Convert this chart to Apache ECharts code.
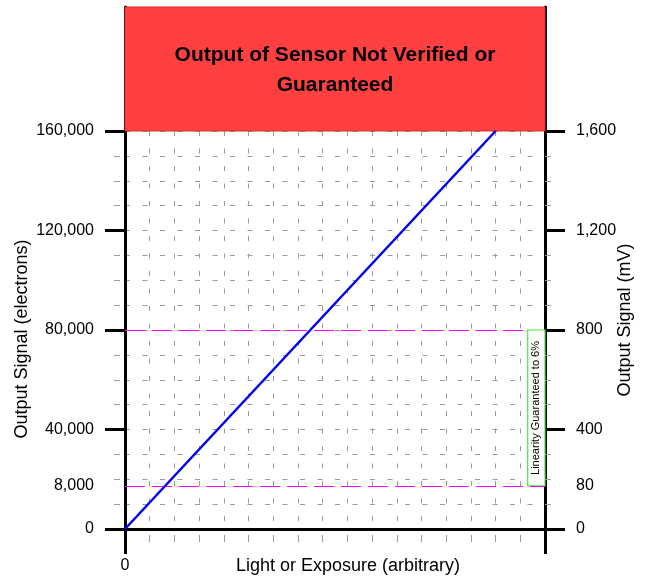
<!DOCTYPE html>
<html>
<head>
<meta charset="utf-8">
<script src="https://cdn.jsdelivr.net/npm/echarts@6/dist/echarts.min.js"></script>
<style>
html,body{margin:0;padding:0;background:#fff;}
#chart{width:645px;height:582px;}
</style>
</head>
<body>
<div id="chart"></div>
<script>
// ---- data ----
const xExtent = [0, 17];
const responseX = [0, 15];
const responseY = [0, 160000];
const leftLabelValues = [0, 17300, 40000, 80000, 120000, 160000];
const leftLabelTexts = ['0', '8,000', '40,000', '80,000', '120,000', '160,000'];
const rightLabelValues = [0, 173, 400, 800, 1200, 1600];
const rightLabelTexts = ['0', '80', '400', '800', '1,200', '1,600'];
const lowLimit = 17300;      // position of the "8,000" line
const linearLimit = 80000;
const linearBoxX = [16.3, 17];
const unverifiedRange = [160000, 210000];
const titleText = 'Output of Sensor Not Verified or\nGuaranteed';
const boxText = 'Linearity Guaranteed to 6%';

const FONT = 'Liberation Sans, Arial, Helvetica, sans-serif';
const gray = '#9a9a9a';
const dash = [5, 12.5];

const chart = echarts.init(document.getElementById('chart'));
const responseData = responseX.map((x, i) => [x, responseY[i]]);

function labelFmt(values, texts) {
  return function (v) {
    const i = values.indexOf(v);
    return i >= 0 ? texts[i] : '';
  };
}

const option = {
  animation: false,
  backgroundColor: '#fff',
  textStyle: { fontFamily: FONT },
  grid: [
    { left: 125, right: 100, top: 131, bottom: 53, outerBoundsMode: 'none', containLabel: false },
    { left: 125, right: 100, top: 7, height: 124, outerBoundsMode: 'none', containLabel: false }
  ],
  xAxis: [
    {
      type: 'value', gridIndex: 0, min: xExtent[0], max: xExtent[1], interval: xExtent[1] - xExtent[0],
      name: 'Light or Exposure (arbitrary)', nameLocation: 'middle', nameGap: 28, nameMoveOverlap: false,
      nameTextStyle: { fontSize: 18, color: '#000', fontFamily: FONT, padding: [0, 0, 0, 26] },
      axisLine: { show: true, lineStyle: { color: '#000', width: 3 } },
      axisTick: { show: true, length: 25, lineStyle: { color: '#000', width: 3 } },
      minorTick: { show: true, splitNumber: 17, length: 13, lineStyle: { color: gray, width: 1, type: [7, 6], dashOffset: 7 } },
      axisLabel: { customValues: [0], margin: 29, fontSize: 16, color: '#000', fontFamily: FONT },
      splitLine: { show: false },
      minorSplitLine: { show: true, lineStyle: { color: gray, width: 1, type: dash } }
    },
    { type: 'value', gridIndex: 1, min: xExtent[0], max: xExtent[1], show: false }
  ],
  yAxis: [
    {
      type: 'value', gridIndex: 0, position: 'left', min: 0, max: 160000, interval: 40000,
      name: 'Output Signal (electrons)', nameLocation: 'middle', nameGap: 94, nameMoveOverlap: false,
      nameTextStyle: { fontSize: 18, color: '#000', fontFamily: FONT, padding: [0, 18, 0, 0] },
      axisLine: { show: true, lineStyle: { color: '#000', width: 3 } },
      axisTick: { show: true, length: 20, lineStyle: { color: '#000', width: 3 } },
      minorTick: { show: true, splitNumber: 4, length: 11, lineStyle: { color: gray, width: 1, type: [6, 5], dashOffset: 6 } },
      axisLabel: { customValues: leftLabelValues, formatter: labelFmt(leftLabelValues, leftLabelTexts), margin: 31, fontSize: 16, color: '#000', fontFamily: FONT },
      splitLine: { show: true, lineStyle: { color: gray, width: 1, type: dash } },
      minorSplitLine: { show: true, lineStyle: { color: gray, width: 1, type: dash } }
    },
    {
      type: 'value', gridIndex: 0, position: 'right', min: 0, max: 1600, interval: 400,
      name: 'Output Signal (mV)', nameLocation: 'middle', nameGap: 71, nameMoveOverlap: false,
      nameTextStyle: { fontSize: 18, color: '#000', fontFamily: FONT, padding: [0, 0, 0, 20] },
      axisLine: { show: true, lineStyle: { color: '#000', width: 3 } },
      axisTick: { show: true, length: 20, lineStyle: { color: '#000', width: 3 } },
      minorTick: { show: true, splitNumber: 4, length: 14, lineStyle: { color: gray, width: 1, type: [6, 8], dashOffset: 14 } },
      axisLabel: { customValues: rightLabelValues, formatter: labelFmt(rightLabelValues, rightLabelTexts), margin: 31, fontSize: 16, color: '#000', fontFamily: FONT },
      splitLine: { show: false },
      minorSplitLine: { show: false }
    },
    {
      type: 'value', gridIndex: 1, position: 'left', min: unverifiedRange[0], max: unverifiedRange[1],
      axisLine: { show: true, lineStyle: { color: '#000', width: 3 } },
      axisTick: { show: false }, axisLabel: { show: false }, splitLine: { show: false }
    },
    {
      type: 'value', gridIndex: 1, position: 'right', min: unverifiedRange[0], max: unverifiedRange[1],
      axisLine: { show: true, lineStyle: { color: '#000', width: 3 } },
      axisTick: { show: false }, axisLabel: { show: false }, splitLine: { show: false }
    }
  ],
  series: [
    {
      type: 'line', xAxisIndex: 1, yAxisIndex: 2, data: [], silent: true,
      markArea: {
        silent: true,
        itemStyle: { color: '#ff4040', borderColor: '#e02a2a', borderWidth: 1 },
        label: { show: true, position: 'inside', color: '#000', fontSize: 21, fontWeight: 'bold', lineHeight: 30, fontFamily: FONT, align: 'center', formatter: titleText, offset: [0, 1] },
        data: [[{ xAxis: xExtent[0], yAxis: unverifiedRange[0] }, { xAxis: xExtent[1], yAxis: unverifiedRange[1] }]]
      }
    },
    {
      type: 'line', xAxisIndex: 0, yAxisIndex: 0, data: responseData, symbol: 'none', z: 5, silent: true,
      lineStyle: { color: '#0000f0', width: 2.5 },
      markLine: {
        silent: true, symbol: 'none',
        label: { show: false },
        lineStyle: { color: '#ff00ff', width: 1.2, type: [20, 7] },
        data: [
          { yAxis: lowLimit },
          [{ coord: [xExtent[0], linearLimit] }, { coord: [linearBoxX[0], linearLimit] }]
        ]
      },
      markArea: {
        silent: true,
        itemStyle: { color: '#ffffff', borderColor: '#44e844', borderWidth: 1.2 },
        label: { show: true, position: 'inside', rotate: 90, color: '#000', fontSize: 11, fontFamily: FONT, formatter: boxText },
        data: [[{ xAxis: linearBoxX[0], yAxis: lowLimit }, { xAxis: linearBoxX[1], yAxis: linearLimit }]]
      }
    }
  ]
};
chart.setOption(option);
</script>
</body>
</html>
